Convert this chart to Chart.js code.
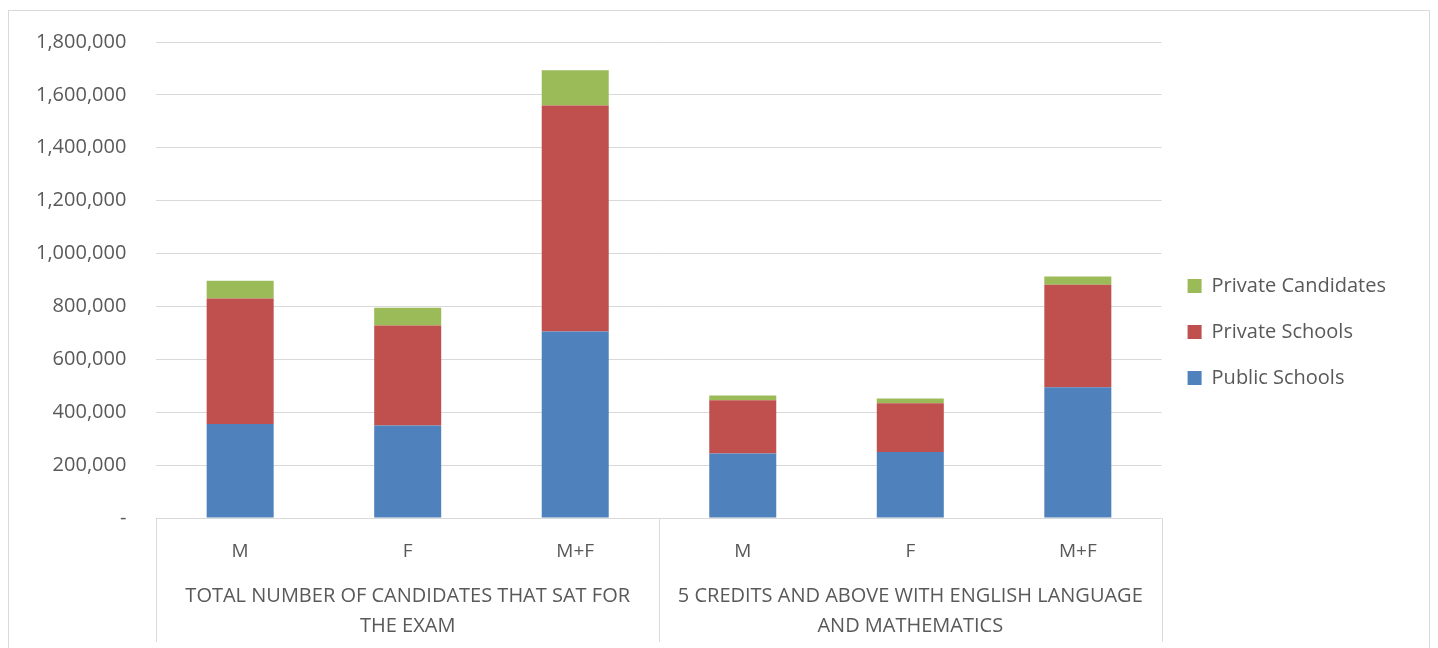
<!DOCTYPE html>
<html>
<head>
<meta charset="utf-8">
<script src="https://cdn.jsdelivr.net/npm/chart.js@4/dist/chart.umd.min.js"></script>
<style>
  html, body { margin: 0; padding: 0; background: #fff; }
  #wrap { width: 1438px; height: 648px; position: relative; }
</style>
</head>
<body>
<div id="wrap"><canvas id="chart" width="1438" height="648"></canvas></div>
<script>
// categories (inner level) and their groups (outer level)
const categories = ["M", "F", "M+F", "M", "F", "M+F"];
const groups = [
  { lines: ["TOTAL NUMBER OF CANDIDATES THAT SAT FOR", "THE EXAM"], from: 0, to: 2 },
  { lines: ["5 CREDITS AND ABOVE WITH ENGLISH LANGUAGE", "AND MATHEMATICS"], from: 3, to: 5 }
];

// series values
const publicSchools     = [355000, 350000, 705000, 244000, 250000, 494000];
const privateSchools    = [475000, 378000, 855000, 201000, 184000, 388000];
const privateCandidates = [67000, 67000, 133000, 18000, 18000, 31000];

// y tick values
const yTicks = [0, 200000, 400000, 600000, 800000, 1000000, 1200000, 1400000, 1600000, 1800000];

const textColor = "#595959";
const lineColor = "#d9d9d9";
const font = "'Open Sans', 'Liberation Sans', sans-serif";

// draws outer frame, group separators and the outer category labels
const groupAxis = {
  id: "groupAxis",
  beforeDraw(chart) {
    const c = chart.ctx;
    c.save();
    c.strokeStyle = lineColor;
    c.lineWidth = 1;
    c.strokeRect(8.5, 10.5, 1421, 700);
    c.restore();
  },
  afterDraw(chart) {
    const c = chart.ctx, x = chart.scales.x, area = chart.chartArea;
    const half = (x.getPixelForValue(1) - x.getPixelForValue(0)) / 2;
    c.save();
    c.strokeStyle = lineColor;
    c.lineWidth = 1;
    const edges = [x.getPixelForValue(0) - half];
    groups.forEach(g => edges.push(x.getPixelForValue(g.to) + half));
    edges.forEach(px => {
      const xx = Math.round(px) + 0.5;
      c.beginPath();
      c.moveTo(xx, area.bottom);
      c.lineTo(xx, area.bottom + 124);
      c.stroke();
    });
    c.fillStyle = textColor;
    c.font = "20px " + font;
    c.textAlign = "center";
    c.textBaseline = "middle";
    groups.forEach(g => {
      const mid = (x.getPixelForValue(g.from) + x.getPixelForValue(g.to)) / 2;
      const maxW = (x.getPixelForValue(g.to) - x.getPixelForValue(g.from)) + 2 * half - 14;
      g.lines.forEach((t, i) => {
        c.fillText(t, mid, area.bottom + 78 + i * 30, maxW);
      });
    });
    c.restore();
  }
};

new Chart(document.getElementById("chart"), {
  type: "bar",
  data: {
    labels: categories,
    datasets: [
      { label: "Public Schools", data: publicSchools, backgroundColor: "#4F81BD" },
      { label: "Private Schools", data: privateSchools, backgroundColor: "#C0504D" },
      { label: "Private Candidates", data: privateCandidates, backgroundColor: "#9BBB59" }
    ]
  },
  options: {
    responsive: false,
    animation: false,
    layout: { padding: { left: 6, top: 24, right: 42, bottom: 8 } },
    datasets: { bar: { barPercentage: 0.4, categoryPercentage: 1 } },
    scales: {
      x: {
        stacked: true,
        grid: { display: false },
        border: { display: false },
        ticks: { color: textColor, font: { size: 19, family: font }, padding: 14, maxRotation: 0 },
        afterFit(scale) { scale.height = 122; }
      },
      y: {
        stacked: true,
        min: 0,
        max: 1800000,
        afterBuildTicks(scale) { scale.ticks = yTicks.map(v => ({ value: v })); },
        grid: { color: lineColor, lineWidth: 1, drawTicks: false },
        border: { display: false },
        ticks: {
          color: textColor,
          font: { size: 20, family: font },
          padding: 30,
          callback: v => v === 0 ? "-" : v.toLocaleString("en-US")
        }
      }
    },
    plugins: {
      legend: {
        position: "right",
        reverse: true,
        labels: {
          color: textColor,
          font: { size: 20, family: font },
          boxWidth: 14,
          boxHeight: 14,
          padding: 26
        }
      },
      tooltip: { enabled: false }
    }
  },
  plugins: [groupAxis]
});
</script>
</body>
</html>
